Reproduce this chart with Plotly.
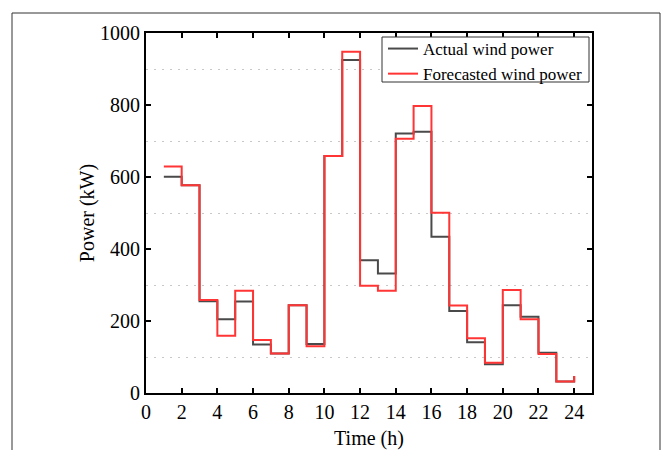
import plotly.graph_objects as go

hours = list(range(1, 25))
actual = [601, 577, 255, 205, 254, 135, 110, 244, 136, 658, 925, 369, 332, 721, 726, 434, 228, 141, 80, 244, 212, 112, 32, 47]
forecast = [629, 577, 258, 159, 284, 147, 110, 244, 130, 658, 948, 298, 284, 706, 797, 501, 243, 152, 84, 286, 205, 108, 32, 47]
x_ticks = list(range(0, 25, 2))
y_ticks = list(range(0, 1001, 200))

FONT = "Liberation Serif"

fig = go.Figure()
fig.add_trace(go.Scatter(x=hours, y=actual, mode="lines", line=dict(shape="hv", color="#4a4a4a", width=2),
                         name="Actual wind power"))
fig.add_trace(go.Scatter(x=hours, y=forecast, mode="lines", line=dict(shape="hv", color="#ff3535", width=2),
                         name="Forecasted wind power"))

L, R, T, B = 146, 70, 33, 57
W, H = 662, 450
pw, ph = W - L - R, H - T - B

def px(xp):
    return (xp - L) / pw

def py(yp):
    return (H - B - yp) / ph

fig.update_layout(
    width=W, height=H,
    margin=dict(l=L, r=R, t=T, b=B, pad=0),
    paper_bgcolor="white", plot_bgcolor="white",
    font=dict(family=FONT, size=20, color="black"),
    showlegend=True,
    legend=dict(x=px(587), y=py(31), xanchor="right", yanchor="top",
                borderwidth=0, bgcolor="rgba(0,0,0,0)",
                font=dict(family=FONT, size=17), tracegroupgap=0),
    xaxis=dict(range=[0, 25], tickvals=x_ticks, ticks="inside", ticklen=5, tickwidth=1.5,
               tickcolor="black", showline=True, linecolor="black", linewidth=2, mirror="ticks",
               showgrid=False, zeroline=False,
               title=dict(text="Time (h)", font=dict(family=FONT, size=20), standoff=13),
               automargin=False, tickfont=dict(family=FONT, size=20)),
    yaxis=dict(range=[0, 1000], tickvals=y_ticks, ticks="inside", ticklen=5, tickwidth=1.5,
               tickcolor="black", showline=True, linecolor="black", linewidth=2, mirror="ticks",
               showgrid=False, zeroline=False,
               minor=dict(tick0=100, dtick=200, showgrid=True, gridcolor="#c8c8c8", griddash="2px,6px",
                          gridwidth=1.2, ticks=""),
               title=dict(text="Power (kW)", font=dict(family=FONT, size=20), standoff=0),
               automargin=False, tickfont=dict(family=FONT, size=20)),
    shapes=[
        dict(type="rect", xref="paper", yref="paper",
             x0=px(12), x1=px(660), y0=py(470), y1=py(13),
             line=dict(color="#333333", width=1), fillcolor="rgba(0,0,0,0)", layer="below"),
        dict(type="rect", xref="paper", yref="paper",
             x0=px(382), x1=px(589), y0=py(82), y1=py(37),
             line=dict(color="#333333", width=1), fillcolor="white", layer="above"),
    ],
)

fig.write_html("out.html")
